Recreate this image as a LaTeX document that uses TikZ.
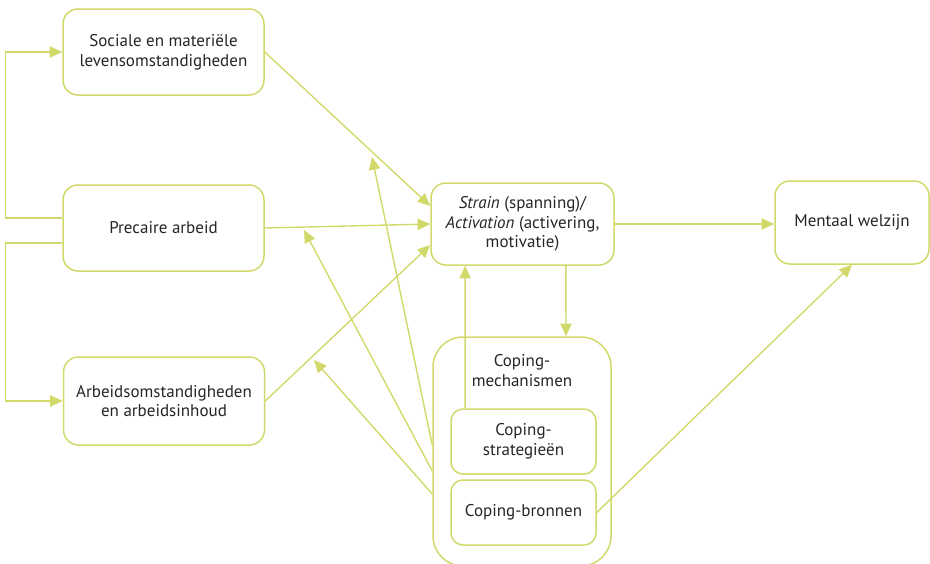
\documentclass[tikz,border=0pt]{standalone}
\usepackage{fontspec}
\setmainfont{PT Sans}
\usepackage{xcolor}
\definecolor{wbline}{HTML}{D2D96B}
\definecolor{wbink}{HTML}{262626}
\usepackage{tikz}
\usetikzlibrary{calc,arrows.meta}

\begin{document}
\begin{tikzpicture}[
    x=0.3mm, y=-0.3mm,
    every node/.style={font=\fontsize{14.5}{16.8}\selectfont, text=wbink},
    box/.style={rectangle, draw=wbline, fill=white, rounded corners=4.5mm,
                minimum width=60.3mm, minimum height=25.8mm, align=center,
                line width=0.45mm},
    inner/.style={box, rounded corners=3.6mm, minimum width=43.5mm, minimum height=19.5mm},
    group/.style={box, rounded corners=9mm, minimum width=53.4mm, minimum height=68.7mm},
    flow/.style={-{Triangle[length=3.8mm, width=3.4mm]}, draw=wbline, line width=0.42mm},
  ]

  \useasboundingbox (0,0) rectangle (930,563);

  \node[box] (soc)  at (163.5,52)  {Sociale en materiële\\levensomstandigheden};
  \node[box] (prec) at (163.5,228) {Precaire arbeid};
  \node[box, minimum height=26.4mm] (arb) at (164,401)
    {Arbeidsomstandigheden\\en arbeidsinhoud};

  \node[box, minimum width=54.9mm, minimum height=24.6mm] (strain) at (522.5,224)
    {\textit{Strain} (spanning)/\\\textit{Activation} (activering,\\motivatie)};
  \node[box, minimum width=46.2mm, minimum height=24.9mm] (ment) at (852,222.5)
    {Mentaal welzijn};

  \node[group] (cope) at (522,451.5) {};
  \node[align=center] (mech) at (522,370.5) {Coping-\\mechanismen};
  \node[inner] (strat) at (523.5,441.5) {Coping-\\strategieën};
  \node[inner] (bron)  at (523.5,512.5) {Coping-bronnen};

  \coordinate (modsoc)  at (372,157);
  \coordinate (modprec) at (304,230);
  \coordinate (modarb)  at (314,360);

  \draw[flow] ([yshift=3mm]prec.west) -- ++(-57,0) |- (soc.west);
  \draw[flow] ([yshift=-4.5mm]prec.west) -- ++(-57,0) |- (arb.west);

  \draw[flow] (soc.east) -- ([yshift=5.4mm]strain.west);
  \draw[flow] (prec.east) -- (strain.west);
  \draw[flow] (arb.east) -- ([yshift=-6.3mm]strain.west);
  \draw[flow] (strain.east) -- (strain.east -| ment.west);

  \draw[flow] ([xshift=13mm]strain.south) -- ([xshift=13.2mm]cope.north);
  \draw[flow] ([xshift=-17.5mm]strat.north) -- ([xshift=-17.2mm]strain.south);

  \draw[flow] ([yshift=1.95mm]cope.west) -- (modsoc);
  \draw[flow] ([yshift=-5.85mm]cope.west) -- (modprec);
  \draw[flow] ([yshift=-12.75mm]cope.west) -- (modarb);

  \draw[flow] (bron.east) -- (ment.south);

\end{tikzpicture}
\end{document}
